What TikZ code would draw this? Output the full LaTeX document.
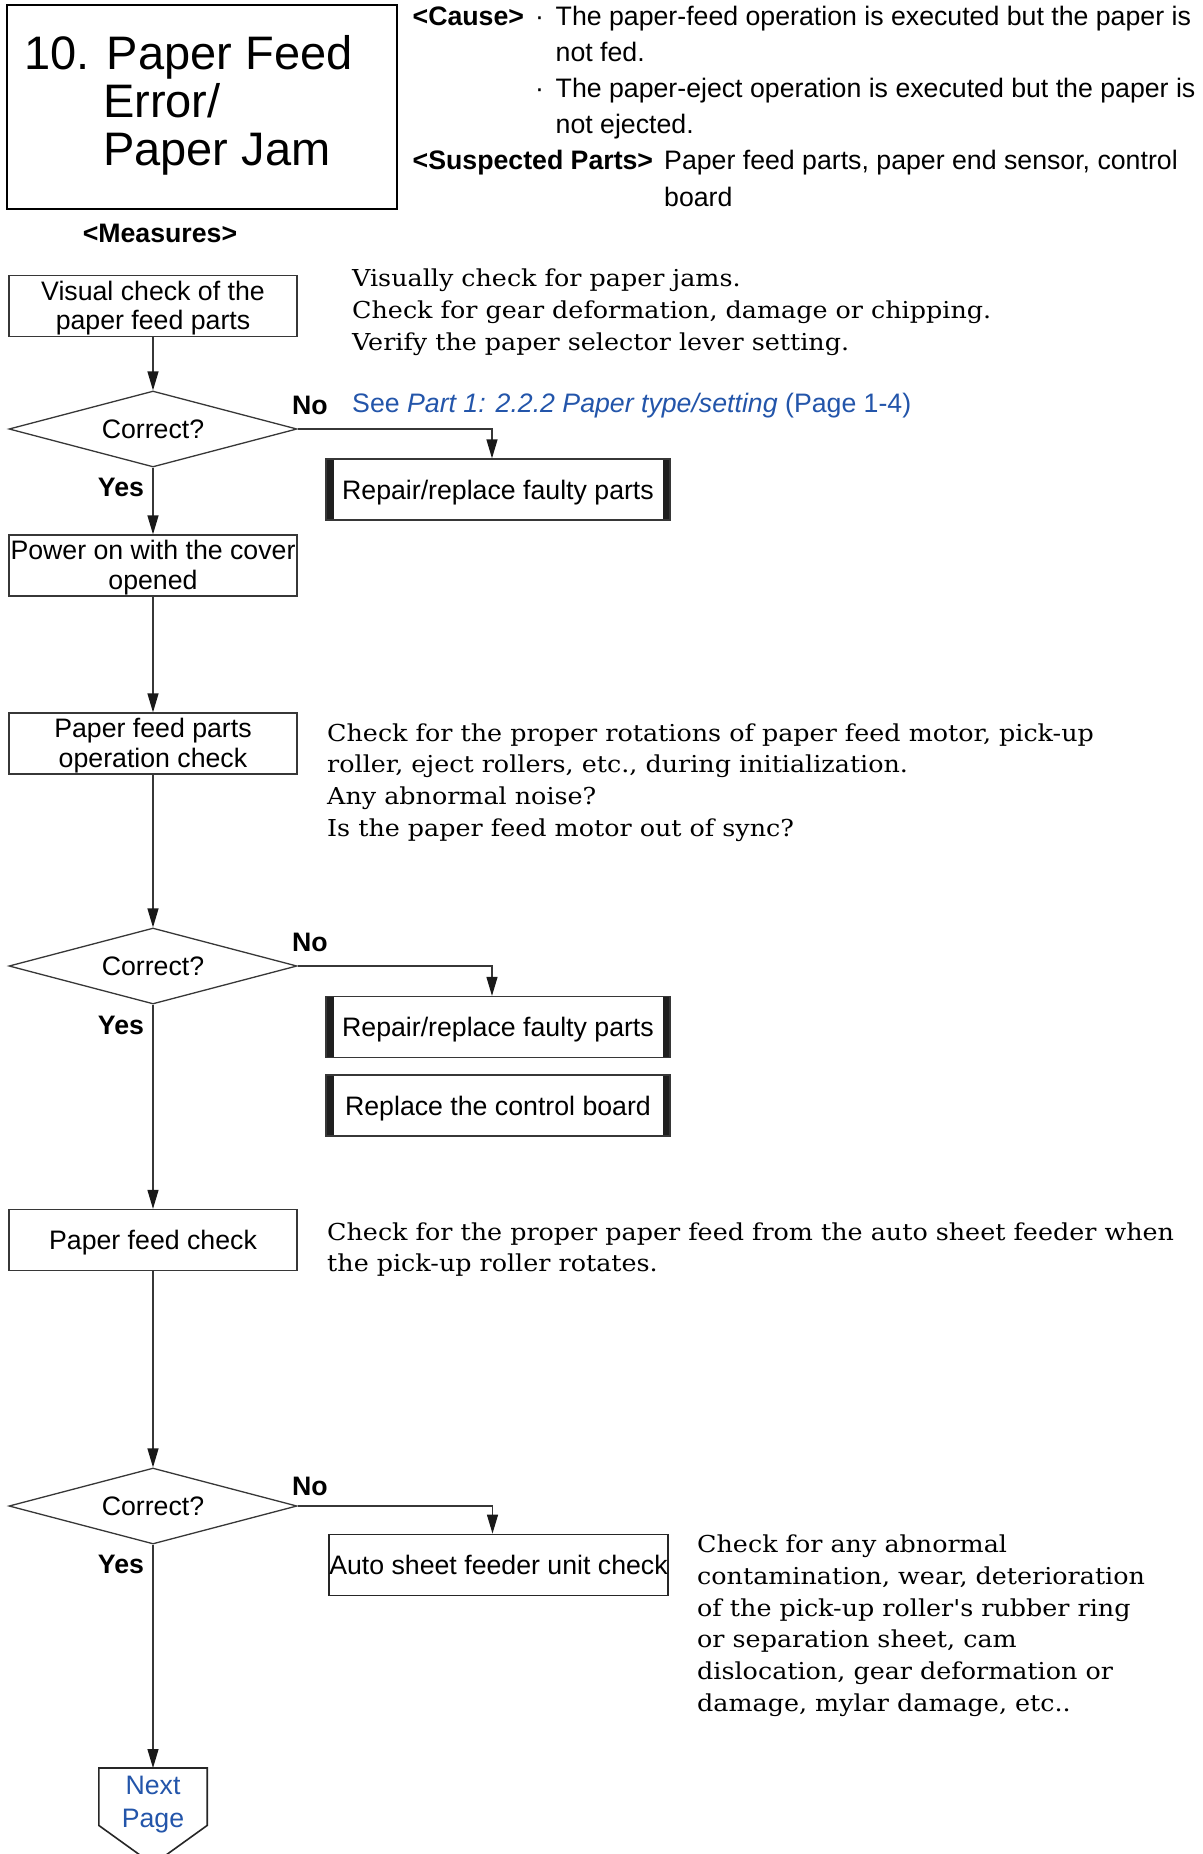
\documentclass[tikz,border=0pt]{standalone}
\usepackage{fontspec}
\setmainfont{DejaVu Serif}
\newfontfamily\hv{Liberation Sans}
\newfontfamily\srf[FakeStretch=1.09]{DejaVu Serif}
\usetikzlibrary{arrows.meta,shapes.geometric}
\definecolor{linkblue}{RGB}{35,85,170}
\definecolor{ln}{RGB}{55,55,55}
\tikzset{
  sf/.style={font=\hv\fontsize{26.7}{29.5}\selectfont},
  sfb/.style={font=\hv\bfseries\fontsize{26.7}{29.5}\selectfont},
  txt/.style={sf, anchor=base west, inner sep=0},
  txtb/.style={sfb, anchor=base west, inner sep=0},
  serif/.style={font=\srf\fontsize{23.3}{32}\selectfont, anchor=base west, inner sep=0},
  procbox/.style={draw=ln, line width=1.3pt, sf, minimum width=288, minimum height=61, inner sep=0, align=center, text depth=1pt},
  decision/.style={diamond, draw=ln, line width=1.3pt, sf, aspect=3.79, minimum width=288, minimum height=76, inner sep=0},
  actbox/.style={draw=ln, line width=1.3pt, sf, minimum width=344, minimum height=61, inner sep=0, text height=24pt, text depth=5pt,
    path picture={
      \fill[black!88] (path picture bounding box.north west) rectangle ([xshift=7.5pt]path picture bounding box.south west);
      \fill[black!88] ([xshift=-7.5pt]path picture bounding box.north east) rectangle (path picture bounding box.south east);}},
  plainbox/.style={draw=black!85, line width=1.8pt, sf, minimum width=339, minimum height=61, inner sep=0, text height=24pt, text depth=5pt},
  arr/.style={draw=ln, line width=1.3pt, -{Triangle[length=19pt,width=11pt,color=black!90]}},
  yesno/.style={sfb, inner sep=0}
}
\begin{document}
\begin{tikzpicture}[x=1pt,y=-1pt]
\fill[white] (0,0) rectangle (1202,1854);
\useasboundingbox (0,0) rectangle (1202,1854);

% title
\node[draw=black, line width=2pt, minimum width=390, minimum height=204, anchor=north west, inner sep=0] (tbox) at (6,4) {};
\node[anchor=base west, inner sep=0, font=\hv\fontsize{47}{48}\selectfont] (t1) at (24,69.5) {10. Paper Feed};
\node[anchor=base west, inner sep=0, font=\hv\fontsize{47}{48}\selectfont] (t2) at (103,118) {Error/};
\node[anchor=base west, inner sep=0, font=\hv\fontsize{47}{48}\selectfont] (t3) at (103,166) {Paper Jam};

% cause
\node[txtb] (cause) at (412.5,26) {<Cause>};
\node[txt] (bul1) at (535,26) {·};
\node[txt] (c1) at (555.5,26) {The paper-feed operation is executed but the paper is};
\node[txt] (c2) at (555.5,62) {not fed.};
\node[txt] (bul2) at (535,98) {·};
\node[txt] (c3) at (555.5,98) {The paper-eject operation is executed but the paper is};
\node[txt] (c4) at (555.5,134) {not ejected.};
\node[txtb] (susp) at (412.5,170) {<Suspected Parts>};
\node[txt] (s1) at (664,170) {Paper feed parts, paper end sensor, control};
\node[txt] (s2) at (664,206) {board};

\node[sfb] (meas) at (160,233) {<Measures>};

% flow
\node[procbox] (b1) at (153,306) {Visual check of the\\paper feed parts};
\node[decision] (d1) at (153,429) {Correct?};
\node[procbox] (b2) at (153,565.5) {Power on with the cover\\opened};
\node[procbox] (b3) at (153,743.5) {Paper feed parts\\operation check};
\node[decision] (d2) at (153,966) {Correct?};
\node[procbox] (b4) at (153,1240) {Paper feed check};
\node[decision] (d3) at (153,1506) {Correct?};

\node[actbox] (r1) at (498,489.5) {Repair/replace faulty parts};
\node[actbox] (r2) at (498,1027) {Repair/replace faulty parts};
\node[actbox] (r3) at (498,1105.5) {Replace the control board};
\node[plainbox] (r4) at (498.5,1565) {Auto sheet feeder unit check};

\node[minimum width=108, minimum height=57, anchor=north, inner sep=0] (np) at (153,1768) {};
\draw[black!85, line width=1.6pt] (np.north west) -- (np.north east) -- (np.south east) -- ([yshift=-39pt]np.south) -- (np.south west) -- cycle;
\node[sf, font=\hv\fontsize{26.7}{33}\selectfont, text=linkblue, align=center, inner sep=0] (npt) at (153,1805) {Next\\Page};

% labels
\node[yesno] (no1) at (310,405) {No};
\node[yesno] (no2) at (310,942) {No};
\node[yesno] (no3) at (310,1486) {No};
\node[yesno] (yes1) at (121,487) {Yes};
\node[yesno] (yes2) at (121,1025) {Yes};
\node[yesno] (yes3) at (121,1564) {Yes};

% side notes
\node[serif] (v1) at (352,286) {Visually check for paper jams.};
\node[serif] (v2) at (352,318) {Check for gear deformation, damage or chipping.};
\node[serif] (v3) at (352,350) {Verify the paper selector lever setting.};
\node[txt, text=linkblue] (see) at (352,412.5) {See \textit{Part 1: 2.2.2 Paper type/setting} (Page 1-4)};

\node[serif] (p1) at (327,741) {Check for the proper rotations of paper feed motor, pick-up};
\node[serif] (p2) at (327,772.7) {roller, eject rollers, etc., during initialization.};
\node[serif] (p3) at (327,804.4) {Any abnormal noise?};
\node[serif] (p4) at (327,836) {Is the paper feed motor out of sync?};

\node[serif] (f1) at (327,1240) {Check for the proper paper feed from the auto sheet feeder when};
\node[serif] (f2) at (327,1271.5) {the pick-up roller rotates.};

\node[serif] (a1) at (697,1552) {Check for any abnormal};
\node[serif] (a2) at (697,1584) {contamination, wear, deterioration};
\node[serif] (a3) at (697,1616) {of the pick-up roller's rubber ring};
\node[serif] (a4) at (697,1647.5) {or separation sheet, cam};
\node[serif] (a5) at (697,1679) {dislocation, gear deformation or};
\node[serif] (a6) at (697,1711) {damage, mylar damage, etc..};

% connectors
\draw[arr] (b1.south) -- (d1.north);
\draw[arr] (d1.south) -- (b2.north);
\draw[arr] (b2.south) -- (b3.north);
\draw[arr] (b3.south) -- (d2.north);
\draw[arr] (d2.south) -- (b4.north);
\draw[arr] (b4.south) -- (d3.north);
\draw[arr] (d3.south) -- (np.north);
\draw[arr] (d1.east) -| ([xshift=-6pt]r1.north);
\draw[arr] (d2.east) -| ([xshift=-6pt]r2.north);
\draw[arr] (d3.east) -| ([xshift=-6pt]r4.north);
\end{tikzpicture}
\end{document}
